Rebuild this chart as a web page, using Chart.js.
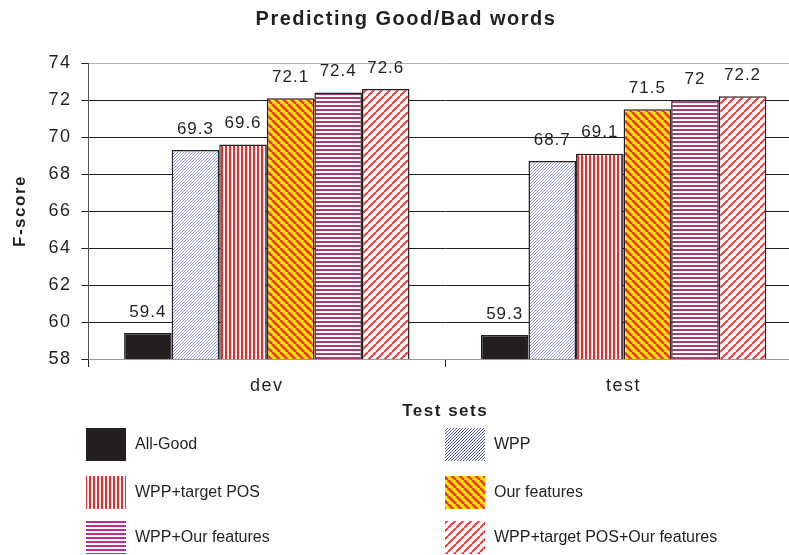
<!DOCTYPE html>
<html>
<head>
<meta charset="utf-8">
<script src="https://cdn.jsdelivr.net/npm/chart.js@4"></script>
<style>
  html, body { margin: 0; padding: 0; background: #fff; overflow: hidden; }
  #wrap { width: 802px; height: 555px; }
</style>
</head>
<body>
<div id="wrap"><canvas id="grafico" width="802" height="555"></canvas></div>
<script>
// data
const categories = ["dev", "test"];
const seriesNames = ["All-Good", "WPP", "WPP+target POS", "Our features", "WPP+Our features", "WPP+target POS+Our features"];
const allGood = [59.4, 59.3];
const wpp = [69.3, 68.7];
const wppPos = [69.6, 69.1];
const ourFeatures = [72.1, 71.5];
const wppOur = [72.4, 72];
const wppPosOur = [72.6, 72.2];
const yTicks = [58, 60, 62, 64, 66, 68, 70, 72, 74];

const ink = "#231f20";
const fam = "'Liberation Sans', Arial, sans-serif";

// hatch fill tiles
function hatch(bg, fg, size, width, dir) {
  const c = document.createElement("canvas");
  c.width = size; c.height = size;
  const g = c.getContext("2d");
  g.fillStyle = bg;
  g.fillRect(0, 0, size, size);
  g.strokeStyle = fg;
  g.fillStyle = fg;
  g.lineWidth = width;
  g.beginPath();
  if (dir === "v") { g.moveTo(size / 2, 0); g.lineTo(size / 2, size); }
  if (dir === "h") { g.moveTo(0, size / 2); g.lineTo(size, size / 2); }
  if (dir === "/") {
    [-1, 0, 1].forEach(k => { g.moveTo(k * size, size); g.lineTo(k * size + size, 0); });
  }
  if (dir === "\\") {
    [-1, 0, 1].forEach(k => { g.moveTo(k * size, 0); g.lineTo(k * size + size, size); });
  }
  if (dir === "px/") {
    // crisp one pixel diagonal
    for (let i = 0; i < size; i++) g.fillRect(i, size - 1 - i, 1, 1);
  } else {
    g.stroke();
  }
  return g.createPattern(c, "repeat");
}

const fills = [
  ink,
  hatch("#ffffff", "#9098d6", 3, 1, "px/"),
  hatch("#ffffff", "#ee2a2a", 4, 2, "v"),
  hatch("#ffe400", "#ee3524", 8, 2.6, "\\"),
  hatch("#ffffff", "#a83a74", 4, 2, "h"),
  hatch("#ffffff", "#ee3b3b", 8, 2, "/")
];
// legend swatches print a little denser/darker in the original
const swatches = [
  ink,
  hatch("#ffffff", "#4a5ab0", 3, 1, "px/"),
  hatch("#ffffff", "#ee2a2a", 4, 2, "v"),
  hatch("#ffe400", "#ee3524", 8, 2.6, "\\"),
  hatch("#ffffff", "#c42a8c", 4, 2, "h"),
  hatch("#ffffff", "#ee3b3b", 8, 2, "/")
];
const values = [allGood, wpp, wppPos, ourFeatures, wppOur, wppPosOur];

// the original lettering is set wide
const wideText = {
  id: "wideText",
  beforeLayout(chart) { chart.ctx.letterSpacing = "1.5px"; },
  beforeDraw(chart) { chart.ctx.letterSpacing = "1.5px"; }
};

const valueLabels = {
  id: "valueLabels",
  afterDatasetsDraw(chart) {
    const ctx = chart.ctx;
    ctx.save();
    ctx.letterSpacing = "1px";
    ctx.font = "17px " + fam;
    ctx.fillStyle = ink;
    ctx.textAlign = "center";
    ctx.textBaseline = "middle";
    chart.data.datasets.forEach((ds, i) => {
      chart.getDatasetMeta(i).data.forEach((bar, j) => {
        ctx.fillText(String(ds.data[j]), bar.x, bar.y - 21);
      });
    });
    ctx.restore();
  }
};

// two-column legend under the chart
const boxLegend = {
  id: "boxLegend",
  afterDraw(chart) {
    const ctx = chart.ctx;
    const cols = [86, 445];
    const rows = [428, 476, 521];
    ctx.save();
    ctx.letterSpacing = "0px";
    ctx.font = "16px " + fam;
    ctx.textBaseline = "middle";
    chart.data.datasets.forEach((ds, i) => {
      const x = cols[i % 2];
      const y = rows[Math.floor(i / 2)];
      ctx.fillStyle = swatches[i];
      ctx.fillRect(x, y, 40, 33);
      ctx.fillStyle = ink;
      ctx.fillText(ds.label, x + 49, y + 17);
    });
    ctx.restore();
  }
};

new Chart(document.getElementById("grafico").getContext("2d"), {
  type: "bar",
  data: {
    labels: categories,
    datasets: seriesNames.map((name, i) => ({
      label: name,
      data: values[i],
      backgroundColor: fills[i],
      borderColor: ink,
      borderWidth: 1.5,
      categoryPercentage: 0.8,
      barPercentage: 1.0
    }))
  },
  options: {
    responsive: false,
    animation: false,
    layout: { padding: { left: 10, right: 0, top: 0, bottom: 133 } },
    plugins: {
      legend: { display: false },
      tooltip: { enabled: false },
      title: {
        display: true,
        text: "Predicting Good/Bad words",
        color: ink,
        font: { family: fam, size: 20, weight: "bold" },
        padding: { top: 7, bottom: 32 }
      }
    },
    scales: {
      x: {
        grid: { drawOnChartArea: false, drawTicks: true, tickLength: 8, tickColor: ink },
        border: { color: "#999999" },
        ticks: { color: ink, padding: 8, font: { family: fam, size: 18 } },
        title: {
          display: true,
          text: "Test sets",
          color: ink,
          padding: { top: -3, bottom: 0 },
          font: { family: fam, size: 17, weight: "bold" }
        }
      },
      y: {
        min: 58,
        max: 74,
        afterBuildTicks(axis) { axis.ticks = yTicks.map(v => ({ value: v })); },
        grid: {
          color: c => (c.tick && (c.tick.value === 74 || c.tick.value === 58)) ? "#b0b0b0" : ink,
          tickColor: ink,
          tickLength: 7
        },
        border: { color: "#555555" },
        ticks: { color: ink, padding: 10, font: { family: fam, size: 18 } },
        title: {
          display: true,
          text: "F-score",
          color: ink,
          padding: { top: 0, bottom: 8 },
          font: { family: fam, size: 17, weight: "bold" }
        }
      }
    }
  },
  plugins: [wideText, valueLabels, boxLegend]
});
</script>
</body>
</html>
